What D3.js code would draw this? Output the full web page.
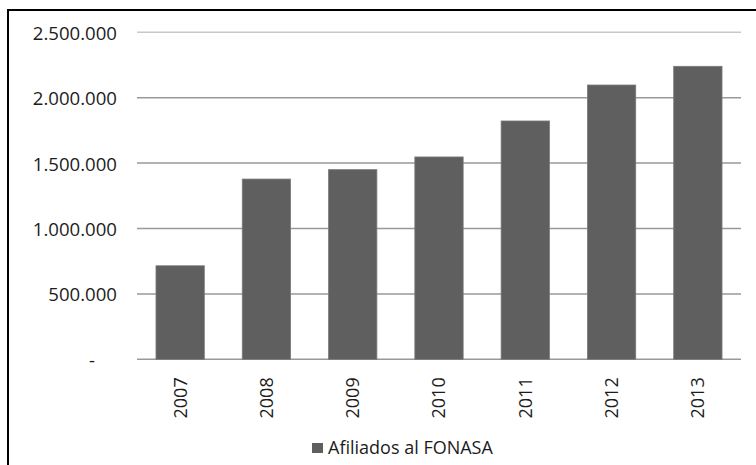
<!DOCTYPE html>
<html>
<head>
<meta charset="utf-8">
<script src="https://cdn.jsdelivr.net/npm/d3@7"></script>
<style>
  body { margin: 0; background: #fff; overflow: hidden; }
  svg { display: block; font-family: "Open Sans", sans-serif; }
</style>
</head>
<body>
<svg id="chart"></svg>
<script>
// data
const years = ["2007", "2008", "2009", "2010", "2011", "2012", "2013"];
const afiliados = [715000, 1378000, 1450000, 1547000, 1822000, 2097000, 2240000];
const yTicks = [0, 500000, 1000000, 1500000, 2000000, 2500000];
const seriesName = "Afiliados al FONASA";

const width = 756;
const height = 465;

const svg = d3.select("#chart")
    .attr("width", width)
    .attr("height", height);

// outer frame: only left and top edges are inside the picture
svg.append("path")
    .attr("d", `M8,${height} V10 H${width}`)
    .attr("fill", "none")
    .attr("stroke", "#000")
    .attr("stroke-width", 2);

const plot = { left: 137, right: 741, top: 32.3, bottom: 359.3 };

const x = d3.scaleBand()
    .domain(years)
    .range([plot.left, plot.right])
    .paddingInner(0.44)
    .paddingOuter(0.22);

const y = d3.scaleLinear()
    .domain([0, 2500000])
    .range([plot.bottom, plot.top]);

// es-CL style thousands separator
const locale = d3.formatLocale({ decimal: ",", thousands: ".", grouping: [3], currency: ["$", ""] });
const fmt = locale.format(",d");

// gridlines
svg.append("g")
    .selectAll("line")
    .data(yTicks)
    .enter()
    .append("line")
    .attr("x1", plot.left)
    .attr("x2", plot.right)
    .attr("y1", d => y(d))
    .attr("y2", d => y(d))
    .attr("stroke", d => d === 2500000 ? "#c8c8c8" : "#999")
    .attr("stroke-width", 1.5);

// y axis labels
const yAxis = svg.append("g")
    .attr("transform", `translate(${plot.left - 20},0)`)
    .call(d3.axisLeft(y).tickValues(yTicks).tickSize(0).tickPadding(0)
        .tickFormat(d => d === 0 ? "-" : fmt(d)));
yAxis.select(".domain").remove();
yAxis.selectAll("text")
    .attr("font-family", "Open Sans, sans-serif")
    .attr("font-size", 18.6)
    .attr("fill", "#1c1c1c")
    .attr("dy", "0.38em");
yAxis.selectAll(".tick")
    .filter(d => d === 0)
    .select("text")
    .attr("x", -22);

// bars
svg.append("g")
    .selectAll("rect")
    .data(afiliados)
    .enter()
    .append("rect")
    .attr("x", (d, i) => x(years[i]))
    .attr("y", d => y(d))
    .attr("width", x.bandwidth())
    .attr("height", d => y(0) - y(d))
    .attr("fill", "#5f5f5f")
    .attr("stroke", "#7a7a7a")
    .attr("stroke-width", 0.8);

// x axis labels, rotated
const xAxis = svg.append("g")
    .attr("transform", `translate(0,${plot.bottom})`)
    .call(d3.axisBottom(x).tickSize(0).tickPadding(0));
xAxis.select(".domain").remove();
xAxis.selectAll("text")
    .attr("font-family", "Open Sans, sans-serif")
    .attr("font-size", 18)
    .attr("fill", "#1c1c1c")
    .attr("transform", "rotate(-90)")
    .attr("text-anchor", "end")
    .attr("x", -18)
    .attr("y", 0)
    .attr("dy", "0.36em");

// legend
const legend = svg.append("g").attr("transform", "translate(312,443)");
legend.append("rect")
    .attr("width", 11)
    .attr("height", 10)
    .attr("fill", "#5f5f5f");
legend.append("text")
    .attr("x", 16)
    .attr("y", 10.5)
    .attr("font-size", 18)
    .attr("fill", "#1c1c1c")
    .text(seriesName);
</script>
</body>
</html>
